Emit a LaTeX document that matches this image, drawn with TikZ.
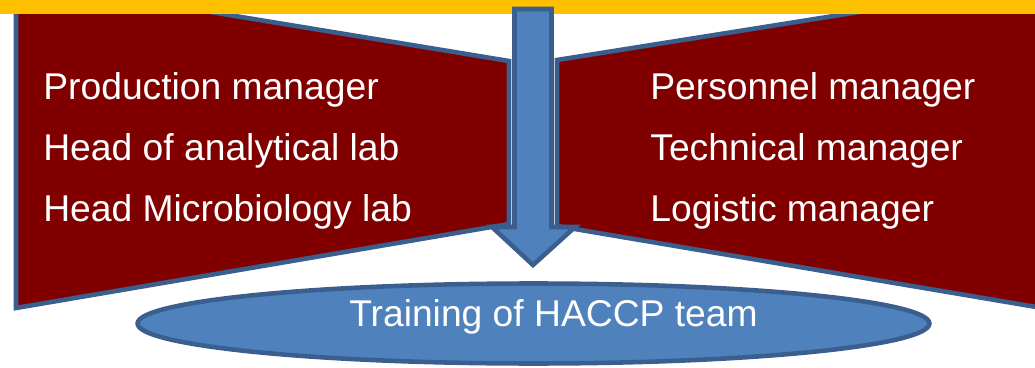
\documentclass[tikz,border=0pt]{standalone}
\usepackage{fontspec}
\setmainfont{Liberation Sans}
\usetikzlibrary{positioning,shapes.geometric}
\definecolor{bandyellow}{HTML}{FFC000}
\definecolor{panelred}{HTML}{800000}
\definecolor{edgeblue}{HTML}{3A5F8F}
\definecolor{fillblue}{HTML}{4F81BD}

\begin{document}
\begin{tikzpicture}[%
            x=0.02cm, y=-0.02cm,
            panel/.style={fill=panelred, draw=edgeblue, line width=2.6pt},
            flow/.style={fill=fillblue, draw=edgeblue, line width=2.6pt},
            hub/.style={ellipse, fill=fillblue, draw=edgeblue, line width=2.6pt,
                inner sep=0pt, minimum width=15.84cm, minimum height=1.6cm},
            staff/.style={inner sep=0pt, text=white, anchor=base west,
                font=\fontsize{21.2}{25}\selectfont}
        ]
        \useasboundingbox (0,0) rectangle (1035,368);
        \clip (0,0) rectangle (1035,368);

        % Side panels
        \draw[panel] (16,-20) -- (509,61) -- (509,224) -- (16,308) -- cycle;
        \draw[panel] (1060,-20) -- (557,60) -- (557,226) -- (1060,311) -- cycle;

        % Top band
        \fill[bandyellow] (-5,-5) rectangle (1040,14);

        % Down arrow
        \draw[flow] (514.5,9) -- (551.5,9) -- (551.5,227) -- (575,227) -- (533,265)
            -- (492,227) -- (514.5,227) -- cycle;

        % Training ellipse
        \node[hub] (hub) at (533.5,323.5) {};
        \node[staff, anchor=base] (hubtext) at (553.5,326) {Training of HACCP team};

        % Left column
        \node[staff] (prodmgr) at (43,100) {Production manager};
        \node[staff] (anlab) [below=1.22cm of prodmgr.base west, anchor=base west] {Head of analytical lab};
        \node[staff] (microlab) [below=1.22cm of anlab.base west, anchor=base west] {Head Microbiology lab};

        % Right column
        \node[staff] (persmgr) at (650,100) {Personnel manager};
        \node[staff] (techmgr) [below=1.22cm of persmgr.base west, anchor=base west] {Technical manager};
        \node[staff] (logmgr) [below=1.22cm of techmgr.base west, anchor=base west] {Logistic manager};

        \end{tikzpicture}
\end{document}
